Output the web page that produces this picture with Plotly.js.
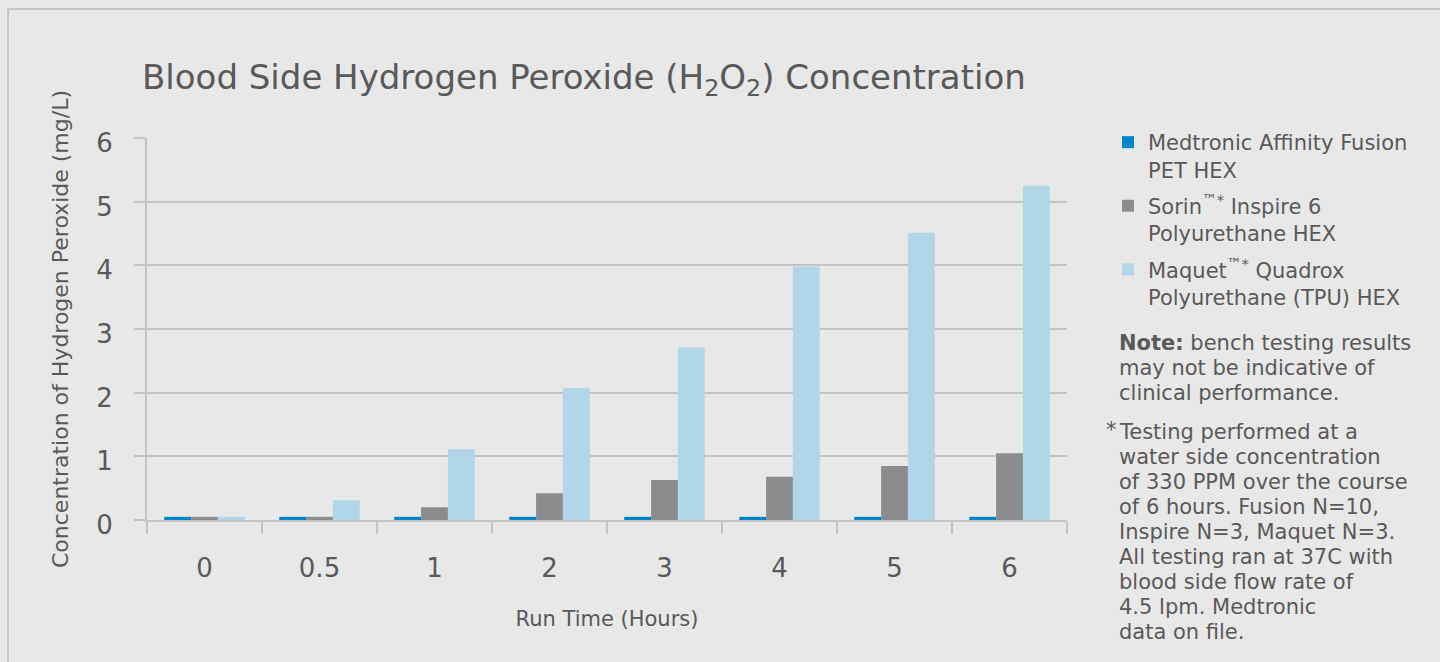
<!DOCTYPE html>
<html>
<head>
<meta charset="utf-8">
<script src="https://cdn.plot.ly/plotly-3.0.1.min.js"></script>
<style>
  html, body { margin: 0; padding: 0; background: #e8e8e8; }
  #chart { width: 1440px; height: 662px; }
</style>
</head>
<body>
<div id="chart"></div>
<script>
// ---- Data ----
const categories = ["0", "0.5", "1", "2", "3", "4", "5", "6"];
const seriesNames = [
  "Medtronic Affinity Fusion<br>PET HEX",
  "Sorin<sup>™*</sup> Inspire 6<br>Polyurethane HEX",
  "Maquet<sup>™*</sup> Quadrox<br>Polyurethane (TPU) HEX"
];
const medtronicValues = [0.05, 0.05, 0.05, 0.05, 0.05, 0.05, 0.05, 0.05];
const sorinValues = [0.05, 0.05, 0.20, 0.42, 0.63, 0.68, 0.85, 1.05];
const maquetValues = [0.05, 0.31, 1.11, 2.07, 2.71, 3.98, 4.51, 5.25];
const yTickValues = [0, 1, 2, 3, 4, 5, 6];

const chartTitle = "Blood Side Hydrogen Peroxide (H<sub>2</sub>O<sub>2</sub>) Concentration";
const xTitle = "Run Time (Hours)";
const yTitle = "Concentration of Hydrogen Peroxide (mg/L)";
const noteLines = [
  "<b>Note:</b> bench testing results",
  "may not be indicative of",
  "clinical performance."
];
const footnoteMark = "*";
const footnoteLines = [
  "Testing performed at a",
  "water side concentration",
  "of 330 PPM over the course",
  "of 6 hours. Fusion N=10,",
  "Inspire N=3, Maquet N=3.",
  "All testing ran at 37C with",
  "blood side flow rate of",
  "4.5 lpm. Medtronic",
  "data on file."
];

// ---- Style ----
const colors = ["#0085ca", "#8b8c8d", "#b1d6e8"];
const textColor = "#595959";
const FONT = "'DejaVu Sans', sans-serif";

// plot area in pixels
const L = 147, R = 1067, T = 138, B = 520;
const W = 1440, H = 662;
const px = (x) => (x - L) / (R - L);
const py = (y) => (B - y) / (B - T);

const traces = [medtronicValues, sorinValues, maquetValues].map((vals, i) => ({
  type: "bar",
  name: seriesNames[i],
  x: categories,
  y: vals,
  marker: { color: colors[i], line: { width: 0 } },
  legendgroup: "g" + i,
  hoverinfo: "x+y"
}));

const textAnn = (text, xPix, yPix) => ({
  xref: "paper", yref: "paper",
  x: px(xPix), y: py(yPix), xanchor: "left", yanchor: "middle", align: "left",
  text: text, showarrow: false,
  font: { family: FONT, size: 21, color: textColor }
});

const annotations = [];
noteLines.forEach((t, i) => annotations.push(textAnn(t, 1117, 343 + 25 * i)));
annotations.push(textAnn(footnoteMark, 1104, 430));
footnoteLines.forEach((t, i) => annotations.push(textAnn(t, 1117, 432 + 25 * i)));

const layout = {
  width: W, height: H,
  margin: { l: L, r: W - R, t: T, b: H - B, pad: 0 },
  paper_bgcolor: "#e8e8e8",
  plot_bgcolor: "#e8e8e8",
  font: { family: FONT, color: textColor },
  barmode: "group",
  bargap: 0.3,
  bargroupgap: 0,
  title: {
    text: chartTitle,
    font: { family: FONT, size: 34, color: textColor },
    xref: "container", x: 142 / W, xanchor: "left",
    yref: "container", y: 1 - 77 / H, yanchor: "middle"
  },
  xaxis: {
    type: "category",
    tickson: "boundaries",
    ticks: "outside",
    ticklen: 12,
    tickwidth: 2,
    tickcolor: "#c4c4c4",
    showline: true,
    linecolor: "#c4c4c4",
    linewidth: 2,
    showgrid: false,
    tickfont: { family: FONT, size: 26, color: textColor },
    ticklabelstandoff: 24,
    title: { text: xTitle, font: { family: FONT, size: 21, color: textColor }, standoff: 29 },
    fixedrange: true
  },
  yaxis: {
    range: [0, 6],
    tickvals: yTickValues,
    ticks: "outside",
    ticklen: 11,
    tickwidth: 2,
    tickcolor: "#c4c4c4",
    showline: true,
    linecolor: "#c4c4c4",
    linewidth: 2,
    showgrid: true,
    gridcolor: "#c4c4c4",
    gridwidth: 2,
    zeroline: false,
    tickfont: { family: FONT, size: 26, color: textColor },
    ticklabelstandoff: 16,
    ticklabelshift: 5,
    title: { text: yTitle, font: { family: FONT, size: 22, color: textColor }, standoff: 22 },
    fixedrange: true
  },
  legend: {
    x: px(1108), xanchor: "left",
    y: py(122), yanchor: "top",
    bgcolor: "rgba(0,0,0,0)",
    font: { family: FONT, size: 21, color: textColor },
    valign: "top",
    traceorder: "grouped",
    tracegroupgap: 6
  },
  annotations: annotations,
  shapes: [
    {
      type: "rect", xref: "paper", yref: "paper", layer: "below",
      x0: px(8), x1: px(1460), y0: py(9), y1: py(700),
      line: { color: "#c6c6c6", width: 2 }, fillcolor: "rgba(0,0,0,0)"
    }
  ],
  showlegend: true
};

Plotly.newPlot("chart", traces, layout, { displayModeBar: false });
</script>
</body>
</html>
